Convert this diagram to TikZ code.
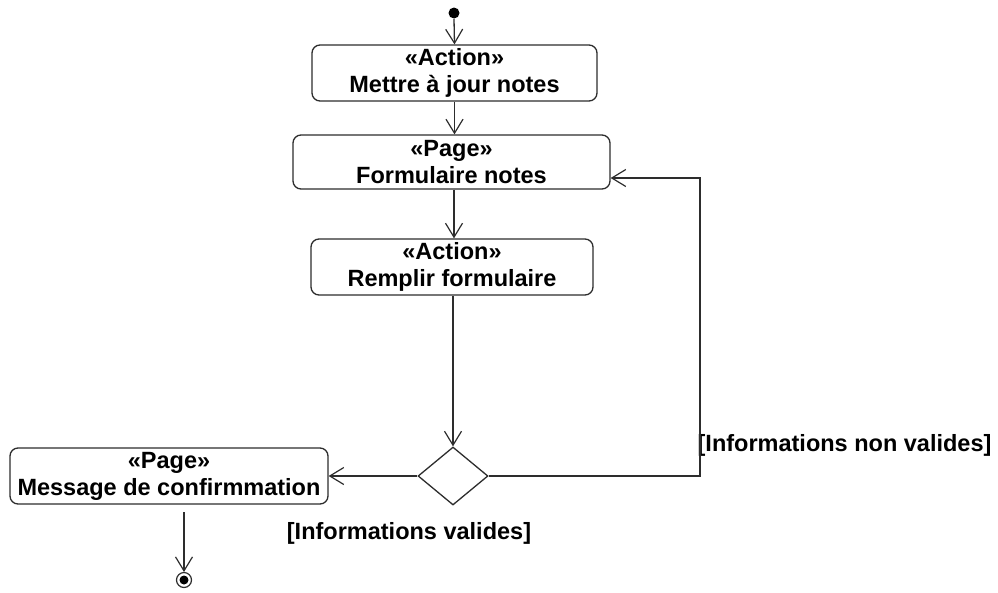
\documentclass[tikz,border=0pt]{standalone}
\usepackage{fontspec}
\setmainfont{Liberation Sans}
\usetikzlibrary{arrows.meta,shapes.geometric}
\begin{document}
\begin{tikzpicture}[x=1pt,y=-1pt,
  line width=1.3pt, draw={rgb,255:red,45;green,45;blue,45},
  flow/.style={-{Straight Barb[length=14pt,width=17pt,line width=1.2pt]}},
  activity/.style={draw, rounded corners=8pt, fill=white, inner sep=0pt,
    font=\fontsize{23.5}{27}\selectfont\bfseries, align=center},
  choice/.style={draw, diamond, minimum width=70pt, minimum height=58pt, inner sep=0pt},
  guard/.style={font=\fontsize{23.5}{27}\selectfont\bfseries, inner sep=0pt}]
  \useasboundingbox (0,0) rectangle (998,592);

  % start and final states
  \fill (454,13) circle (5.5) node (start) {};
  \coordinate (startpt) at (454,19);
  \draw[line width=1.2pt] (184,580) circle (7.5);
  \fill (184,580) circle (4.5);
  \coordinate (final) at (184,572);

  % activity nodes
  \node[activity, minimum width=285pt, minimum height=56pt] (maj) at (454.5,73)
    {«Action»\\Mettre à jour notes};
  \node[activity, minimum width=317pt, minimum height=54pt] (form) at (451.5,162)
    {«Page»\\Formulaire notes};
  \node[activity, minimum width=282pt, minimum height=56pt] (remplir) at (452,267)
    {«Action»\\Remplir formulaire};
  \node[activity, minimum width=318pt, minimum height=56pt] (msg) at (169,476)
    {«Page»\\Message de confirmmation};
  \node[choice] (dec) at (453,476) {};

  % guards
  \node[guard, anchor=west] (nonval) at (697,445) {[Informations non valides]};
  \node[guard] (val) at (409,533) {[Informations valides]};

  % transitions
  \draw[flow] (startpt) -- (maj.north);
  \draw[flow] (maj.south) -- (form.north -| maj.south);
  \draw[flow] (form.south -| 454,0) -- (remplir.north -| 454,0);
  \draw[flow] (remplir.south -| dec.north) -- (dec.north);
  \draw[flow] (dec.west) -- (msg.east);
  \coordinate (c1) at (700,476);
  \coordinate (c2) at (700,178);
  \draw[flow] (dec.east) -- (c1) -- (c2) -- (c2 -| form.east);
  \coordinate (msgout) at (184,512);
  \draw[flow] (msgout) -- (final);
\end{tikzpicture}
\end{document}
